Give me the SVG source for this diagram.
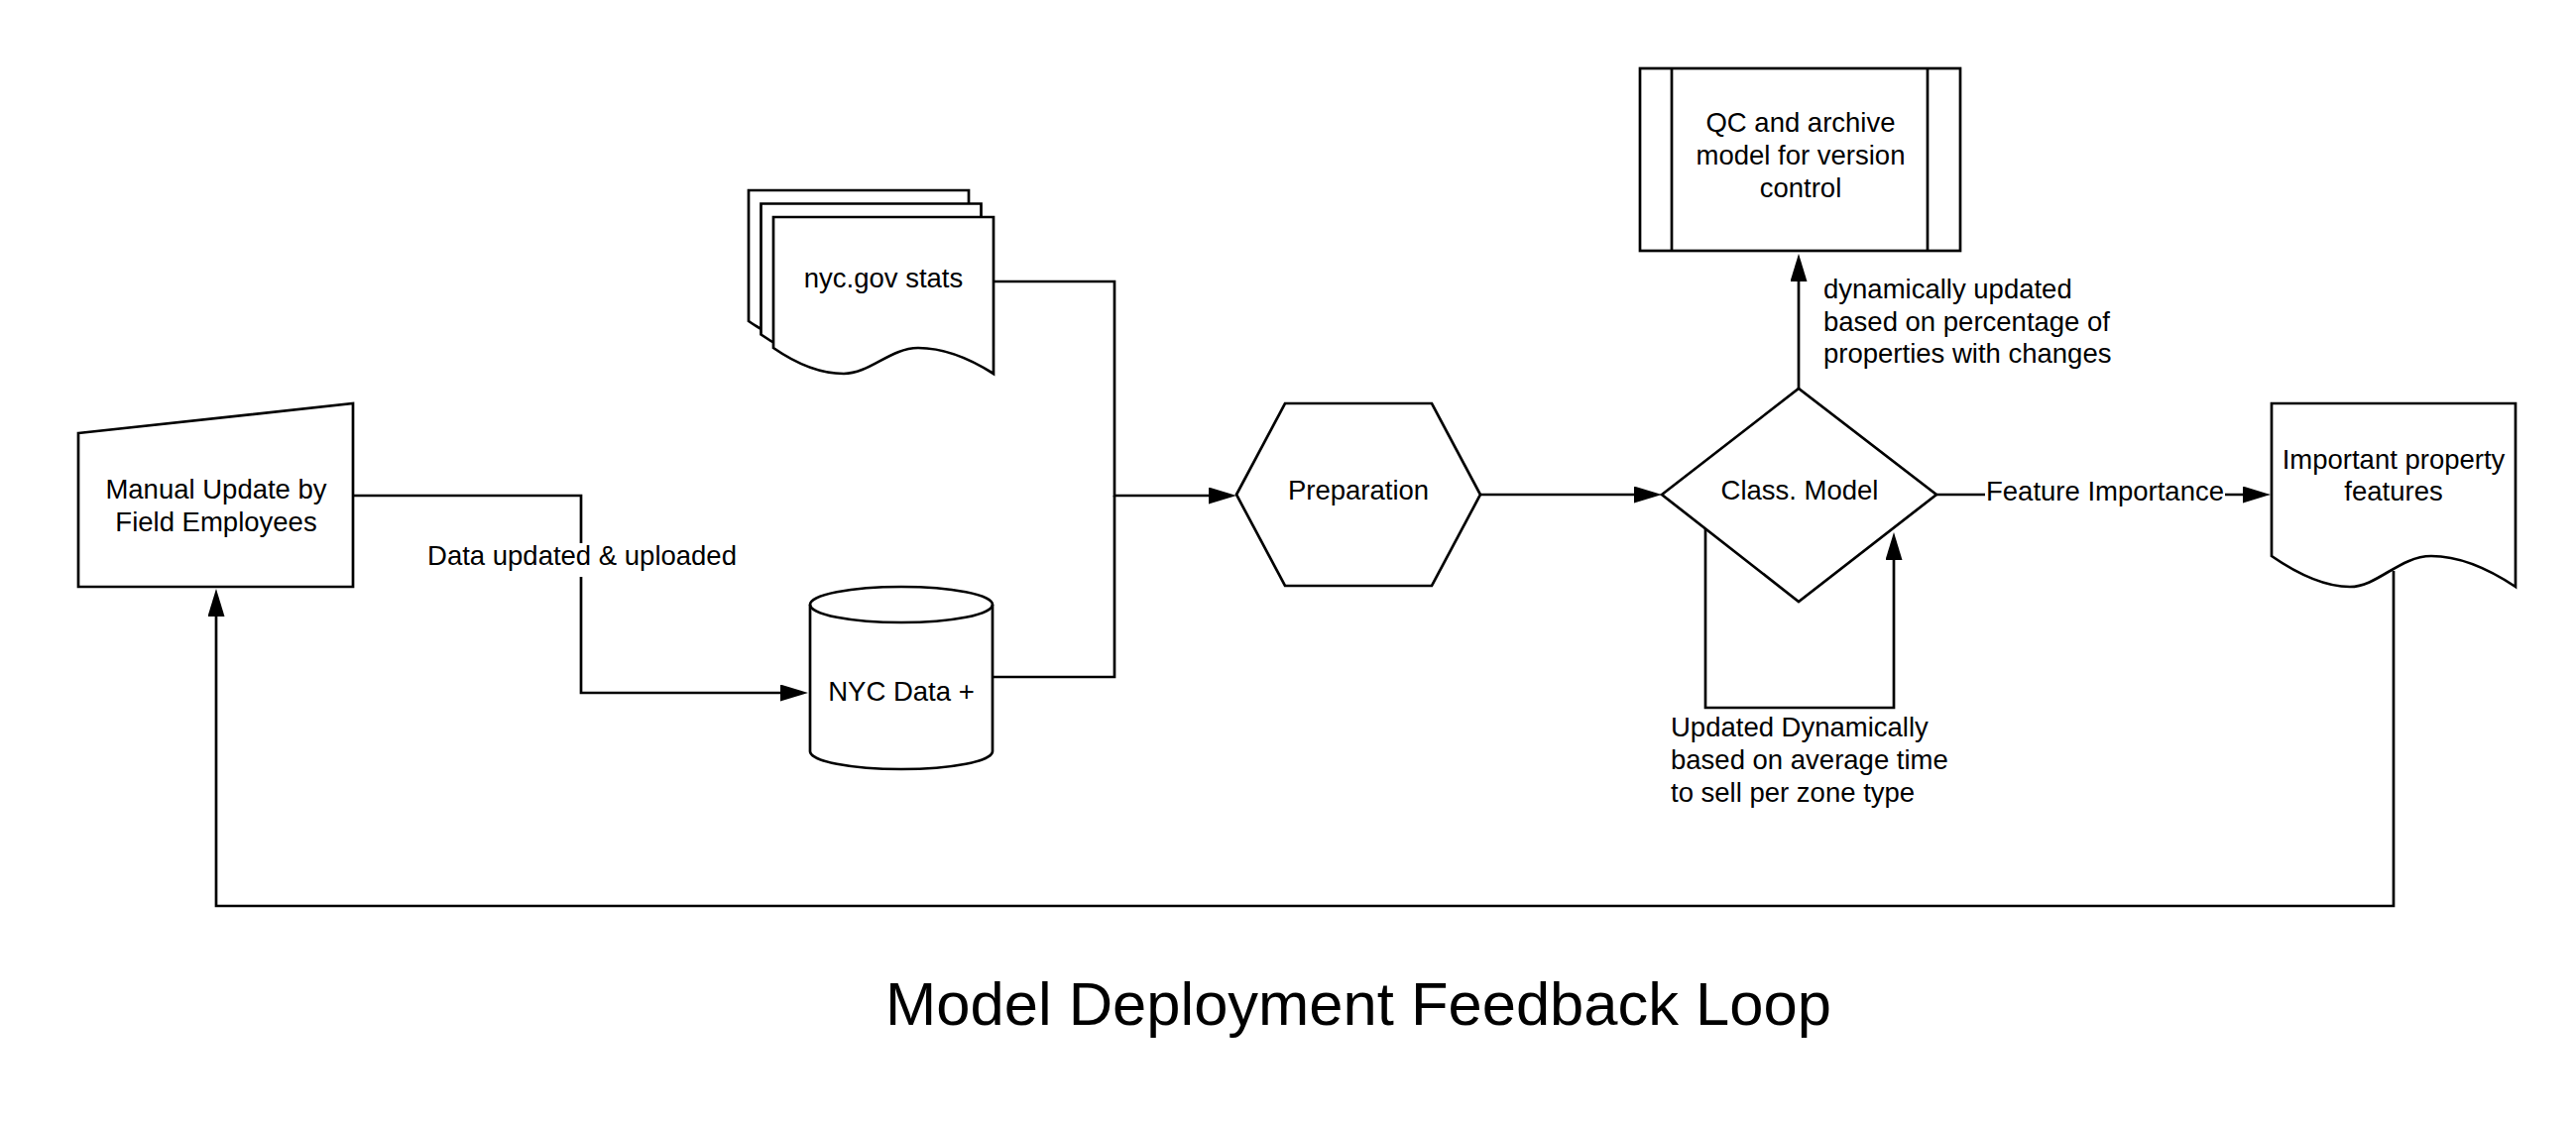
<svg xmlns="http://www.w3.org/2000/svg" width="2598" height="1132" viewBox="0 0 2598 1132">
<defs>
<style>
.shape{fill:#fff;stroke:#000;stroke-width:2.7;stroke-linejoin:miter}
.edge{fill:none;stroke:#000;stroke-width:2.7}
.t{font-family:"Liberation Sans",Arial,sans-serif;font-size:27.5px;fill:#000}
.c{text-anchor:middle}
.title{font-family:"Liberation Sans",Arial,sans-serif;font-size:61.5px;fill:#000;text-anchor:middle}
</style>
<marker id="arr" viewBox="0 0 28 17" refX="0" refY="8.5" markerWidth="28" markerHeight="17" markerUnits="userSpaceOnUse" orient="auto">
<path d="M0,0 L28,8.5 L0,17 Z" fill="#000"/>
</marker>
</defs>
<rect width="2598" height="1132" fill="#fff"/>

<g id="connectors">
<path class="edge" d="M356,500 H586 V699 H787" marker-end="url(#arr)"/>
<rect x="428" y="548" width="318" height="34" fill="#fff"/>
<text class="t c" x="587" y="570">Data updated &amp; uploaded</text>
<path class="edge" d="M1002,284 H1124 V500 H1219" marker-end="url(#arr)"/>
<path class="edge" d="M1001,683 H1124 V500"/>
<path class="edge" d="M1493,499 H1648" marker-end="url(#arr)"/>
<path class="edge" d="M1814,392 V284" marker-end="url(#arr)"/>
<text class="t" x="1839" y="301">dynamically updated</text>
<text class="t" x="1839" y="333.5">based on percentage of</text>
<text class="t" x="1839" y="366">properties with changes</text>
<path class="edge" d="M1720,533 V714 H1910 V565" marker-end="url(#arr)"/>
<text class="t" x="1685" y="743">Updated Dynamically</text>
<text class="t" x="1685" y="776">based on average time</text>
<text class="t" x="1685" y="809">to sell per zone type</text>
<path class="edge" d="M1953,499 H2262" marker-end="url(#arr)"/>
<rect x="2002" y="482" width="242" height="34" fill="#fff"/>
<text class="t" x="2003" y="505">Feature Importance</text>
<path class="edge" d="M2414,576 V914 H218 V622" marker-end="url(#arr)"/>
</g>

<g id="node-manual">
<polygon class="shape" points="79,437 356,407 356,592 79,592"/>
<text class="t c" x="218" y="503">Manual Update by</text>
<text class="t c" x="218" y="536">Field Employees</text>
</g>

<g id="node-nycgov">
<path class="shape" d="M755,192 H977 V350 C955,336 930,324 901,324 C873,324 852,350 826,350 C803,350 781,342 755,324 Z"/>
<path class="shape" d="M767.5,205.5 H989.5 V363.5 C967.5,349.5 942.5,337.5 913.5,337.5 C885.5,337.5 864.5,363.5 838.5,363.5 C815.5,363.5 793.5,355.5 767.5,337.5 Z"/>
<path class="shape" d="M780,219 H1002 V377 C980,363 955,351 926,351 C898,351 877,377 851,377 C828,377 806,369 780,351 Z"/>
<text class="t c" x="891" y="290">nyc.gov stats</text>
</g>

<g id="node-nycdata">
<path class="shape" d="M817,610 A92,18 0 0 1 1001,610 V758 A92,18 0 0 1 817,758 Z"/>
<path class="edge" d="M817,610 A92,18 0 0 0 1001,610"/>
<text class="t c" x="909" y="707">NYC Data +</text>
</g>

<g id="node-prep">
<polygon class="shape" points="1247,499 1296,407 1444,407 1493,499 1444,591 1296,591"/>
<text class="t c" x="1370" y="504">Preparation</text>
</g>

<g id="node-class">
<polygon class="shape" points="1676,499 1814,392 1953,499 1814,607"/>
<text class="t c" x="1815" y="504">Class. Model</text>
</g>

<g id="node-qc">
<rect class="shape" x="1654" y="69" width="323" height="184"/>
<path class="edge" d="M1686,69 V253 M1944,69 V253"/>
<text class="t c" x="1816" y="133">QC and archive</text>
<text class="t c" x="1816" y="166">model for version</text>
<text class="t c" x="1816" y="199">control</text>
</g>

<g id="node-important">
<path class="shape" d="M2291,407 H2537 V592 C2510,574 2482,561 2452,561 C2420,561 2398,592 2370,592 C2345,592 2320,581 2291,561 Z"/>
<text class="t c" x="2414" y="473">Important property</text>
<text class="t c" x="2414" y="505">features</text>
</g>

<text class="title" x="1370" y="1034">Model Deployment Feedback Loop</text>
</svg>
